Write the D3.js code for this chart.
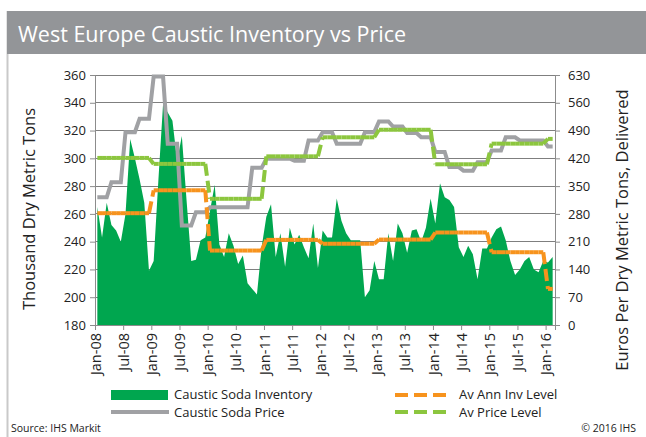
<!DOCTYPE html>
<html lang="en">
<head>
  <meta charset="UTF-8">
  <title>West Europe Caustic Inventory vs Price</title>
  <style>
    body { margin: 0; background: #fff; }
    text { font-family: "Open Sans", sans-serif; }
  </style>
</head>
<body>
  <svg width="646" height="437" class="svgs"></svg>
  <script src="https://cdn.jsdelivr.net/npm/d3@7/dist/d3.min.js"></script>
  <script>
    // monthly inventory, thousand dry metric tons, Jan-08 .. Feb-16
    const inventory = [
      265, 243, 268, 252, 248, 240, 260, 314, 300, 285, 268, 219,
      226, 284, 339, 333, 327, 298, 316, 270, 226, 227, 241, 243,
      262, 281, 238, 229, 246, 237, 224, 230, 210, 206, 202, 236,
      258, 267, 229, 246, 222, 250, 238, 245, 236, 228, 253, 221,
      248, 243, 243, 271, 255, 246, 241, 241, 241, 200, 205, 226,
      213, 213, 246, 226, 253, 246, 232, 248, 249, 240, 250, 271,
      253, 282, 272, 270, 265, 236, 229, 237, 231, 213, 235, 235,
      243, 249, 251, 241, 226, 216, 220, 226, 229, 220, 218, 226,
      225, 229
    ]
    // monthly contract price, euros per dry metric ton
    const price = [
      322, 322, 322, 360, 360, 360, 486, 486, 486, 520, 520, 520,
      626, 626, 626, 457, 457, 457, 251, 251, 251, 284, 284, 284,
      297, 297, 297, 297, 297, 297, 297, 297, 297, 396, 396, 396,
      419, 419, 419, 419, 419, 419, 414, 414, 414, 465, 465, 465,
      486, 486, 486, 457, 457, 457, 457, 457, 457, 486, 486, 486,
      513, 513, 513, 500, 500, 500, 484, 484, 484, 473, 473, 473,
      436, 436, 436, 398, 398, 398, 389, 389, 389, 410, 410, 410,
      440, 440, 440, 473, 473, 473, 465, 465, 465, 465, 465, 465,
      450, 450
    ]
    // yearly averages 2008 .. 2016
    const avAnnInv = [260.5, 277, 233.6, 241.3, 238.5, 241.5, 246.6, 232.4, 206]
    const avPrice = [421, 406, 318, 425, 473, 492, 405, 457, 469]

    const xLabels = ['Jan-08', 'Jul-08', 'Jan-09', 'Jul-09', 'Jan-10', 'Jul-10', 'Jan-11', 'Jul-11',
      'Jan-12', 'Jul-12', 'Jan-13', 'Jul-13', 'Jan-14', 'Jul-14', 'Jan-15', 'Jul-15', 'Jan-16']
    const leftTicks = [180, 200, 220, 240, 260, 280, 300, 320, 340, 360]
    const rightTicks = [0, 70, 140, 210, 280, 350, 420, 490, 560, 630]

    const C = {
      inv: '#00a64f', price: '#a0a1a4', avInv: '#f7931d', avPrice: '#8cc63e',
      grid: '#7f7f7f', axis: '#8c8c8c', bar: '#939598'
    }

    const svg = d3.select('.svgs')
    const plotL = 95, plotR = 555, plotT = 75, plotB = 325

    const x = d3.scaleLinear().domain([0, 98]).range([plotL, plotR])
    const yL = d3.scaleLinear().domain([180, 360]).range([plotB, plotT])
    const yR = d3.scaleLinear().domain([0, 630]).range([plotB, plotT])

    // frame + title bar
    svg.append('line').attr('x1', 7.5).attr('x2', 7.5).attr('y1', 11).attr('y2', 437)
      .attr('stroke', '#c9c9c9').attr('stroke-width', 2)
    svg.append('rect').attr('x', 7).attr('y', 11).attr('width', 639).attr('height', 43).attr('fill', C.bar)
    svg.append('text').text('West Europe Caustic Inventory vs Price')
      .attr('x', 18).attr('y', 42).attr('fill', '#fff').attr('font-size', 21.5)

    // gridlines
    svg.append('g').selectAll('line').data(leftTicks).join('line')
      .attr('x1', plotL).attr('x2', plotR)
      .attr('y1', d => yL(d)).attr('y2', d => yL(d))
      .attr('stroke', C.grid).attr('stroke-width', 1).attr('shape-rendering', 'crispEdges')

    // inventory area
    const area = d3.area()
      .x((d, i) => x(i + 0.5))
      .y0(yL(180))
      .y1(d => yL(d))
    svg.append('path').datum(inventory).attr('d', area).attr('fill', C.inv)

    // price line
    const priceLine = d3.line().x((d, i) => x(i + 0.5)).y(d => yR(d))
    svg.append('path').datum(price).attr('d', priceLine)
      .attr('fill', 'none').attr('stroke', C.price).attr('stroke-width', 4)

    // dashed yearly level lines, drawn segment by segment
    function levelLine(levels, scale, color) {
      const monthly = inventory.map((d, i) => levels[Math.floor(i / 12)])
      const segs = d3.pairs(monthly.map((v, i) => [x(i + 0.5), scale(v)]))
      svg.append('g').selectAll('path').data(segs).join('path')
        .attr('d', d => d3.line()(d))
        .attr('fill', 'none').attr('stroke', color).attr('stroke-width', 4)
        .attr('stroke-dasharray', '12,5')
    }
    levelLine(avAnnInv, yL, C.avInv)
    levelLine(avPrice, yR, C.avPrice)

    // axes
    const axL = svg.append('g').attr('transform', `translate(${plotL},0)`)
      .call(d3.axisLeft(yL).tickValues(leftTicks).tickSize(5).tickPadding(4))
    const axR = svg.append('g').attr('transform', `translate(${plotR},0)`)
      .call(d3.axisRight(yR).tickValues(rightTicks).tickSize(5).tickPadding(8))
    const axB = svg.append('g').attr('transform', `translate(0,${plotB})`)
      .call(d3.axisBottom(x).tickValues(d3.range(0, 97, 6)).tickFormat((d, i) => xLabels[i]).tickSize(5))
    ;[axL, axR, axB].forEach(a => {
      a.selectAll('path, line').attr('stroke', C.axis)
      a.selectAll('text').attr('font-size', 13).attr('fill', '#222').attr('font-family', '"Open Sans", sans-serif')
    })
    axB.selectAll('text')
      .attr('transform', 'rotate(-90)').attr('x', -8).attr('y', 0).attr('dy', '0.35em')
      .attr('font-size', 14.5)
      .style('text-anchor', 'end')

    // axis titles
    svg.append('text').text('Thousand Dry Metric Tons')
      .attr('transform', 'translate(35,209) rotate(-90)').attr('text-anchor', 'middle')
      .attr('font-size', 16.5).attr('fill', '#222')
    svg.append('text').text('Euros Per Dry Metric Tons, Delivered')
      .attr('transform', 'translate(628,230) rotate(-90)').attr('text-anchor', 'middle')
      .attr('font-size', 16.5).attr('fill', '#222')

    // legend
    const lg = svg.append('g')
    lg.append('rect').attr('x', 111).attr('y', 390).attr('width', 57).attr('height', 10).attr('fill', C.inv)
    lg.append('line').attr('x1', 111).attr('x2', 169).attr('y1', 412).attr('y2', 412)
      .attr('stroke', C.price).attr('stroke-width', 4)
    lg.append('line').attr('x1', 395).attr('x2', 452).attr('y1', 395).attr('y2', 395)
      .attr('stroke', C.avInv).attr('stroke-width', 4).attr('stroke-dasharray', '13,6')
    lg.append('line').attr('x1', 395).attr('x2', 452).attr('y1', 412).attr('y2', 412)
      .attr('stroke', C.avPrice).attr('stroke-width', 4).attr('stroke-dasharray', '13,6')
    const legendText = [
      ['Caustic Soda Inventory', 174, 399], ['Caustic Soda Price', 174, 417],
      ['Av Ann Inv Level', 459, 399], ['Av Price Level', 459, 417]
    ]
    lg.selectAll('text').data(legendText).join('text')
      .text(d => d[0]).attr('x', d => d[1]).attr('y', d => d[2])
      .attr('font-size', 13).attr('fill', '#222')

    svg.append('text').text('Source: IHS Markit').attr('x', 11).attr('y', 432)
      .attr('font-size', 10.5).attr('fill', '#222')
    svg.append('text').text('\u00a9 2016  IHS').attr('x', 636).attr('y', 432)
      .attr('text-anchor', 'end').attr('font-size', 10.5).attr('fill', '#222')
  </script>
</body>
</html>
